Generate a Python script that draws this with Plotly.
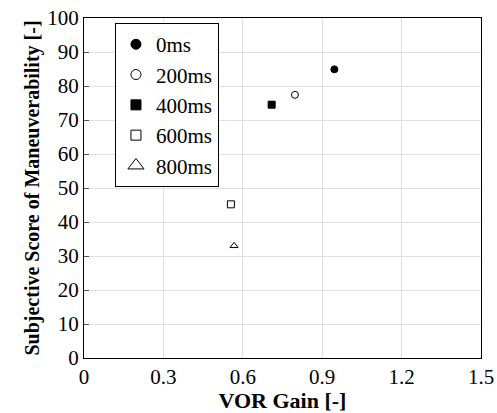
import plotly.graph_objects as go

labels = ["0ms", "200ms", "400ms", "600ms", "800ms"]
vor_gain = [0.946, 0.797, 0.709, 0.555, 0.567]
score = [84.9, 77.4, 74.5, 45.2, 33.0]
symbols = ["circle", "circle-open", "square", "square-open", "triangle-up-open"]
legend_sizes = [10, 10, 10, 10, 14]

fig = go.Figure()
for lab, x, y, s in zip(labels, vor_gain, score, symbols):
    fig.add_trace(go.Scatter(
        x=[x], y=[y], mode="markers", name=lab, showlegend=False,
        marker=dict(symbol=s, size=7, color="black", line=dict(color="black", width=1)),
    ))
# legend entries with larger symbols, as in the reference
for lab, s, sz in zip(labels, symbols, legend_sizes):
    fig.add_trace(go.Scatter(
        x=[None], y=[None], mode="markers", name=lab,
        marker=dict(symbol=s, size=sz, color="black", line=dict(color="black", width=1)),
    ))

font = "Liberation Serif"
fig.update_layout(
    width=497, height=413,
    margin=dict(l=84, r=16, t=18, b=55, autoexpand=False),
    plot_bgcolor="white", paper_bgcolor="white",
    font=dict(family=font, size=21, color="black"),
    showlegend=True,
    legend=dict(x=0.078, y=0.985, xanchor="left", yanchor="top",
                bordercolor="black", borderwidth=1, bgcolor="white",
                font=dict(family=font, size=21), itemwidth=30,
                tracegroupgap=0, itemsizing="trace"),
    xaxis=dict(range=[0, 1.5], tickvals=[0, 0.3, 0.6, 0.9, 1.2, 1.5],
               ticktext=["0", "0.3", "0.6", "0.9", "1.2", "1.5"],
               showgrid=True, gridcolor="#e0e0e0", gridwidth=1,
               showline=True, linecolor="black", linewidth=1, mirror=True,
               ticks="", zeroline=False, automargin=False,
               tickfont=dict(family=font, size=21),
               title=dict(text="<b>VOR Gain [-]</b>", font=dict(family=font, size=22), standoff=0)),
    yaxis=dict(range=[0, 100], tickvals=list(range(0, 101, 10)),
               showgrid=True, gridcolor="#e0e0e0", gridwidth=1,
               showline=True, linecolor="black", linewidth=1, mirror=True,
               ticks="inside", ticklen=5, tickcolor="#555", zeroline=False, automargin=False,
               tickfont=dict(family=font, size=21),
               title=dict(text="<b>Subjective Score of Maneuverability [-]</b>", font=dict(family=font, size=20), standoff=2)),
)

fig.write_html("out.html", config={"displayModeBar": False},
               post_script="document.body.style.margin='0';")
